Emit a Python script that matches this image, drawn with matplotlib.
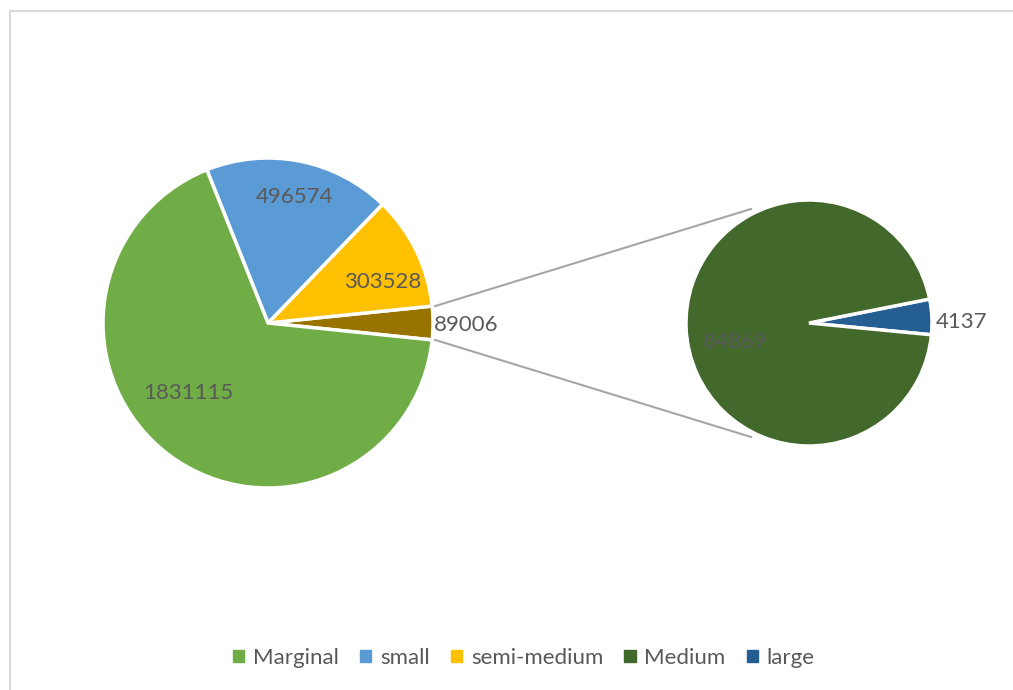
import matplotlib.pyplot as plt
from matplotlib.patches import Rectangle
import numpy as np

# main pie (counter-clockwise from the right): other, semi-medium, small, Marginal
main_names = ['other', 'semi-medium', 'small', 'Marginal']
main_values = [89006, 303528, 496574, 1831115]
main_colors = ['#997300', '#FFC000', '#5B9BD5', '#70AD47']

# secondary pie: split of "other"
sub_names = ['large', 'Medium']
sub_values = [4137, 84869]
sub_colors = ['#255E91', '#43682B']

legend_names = ['Marginal', 'small', 'semi-medium', 'Medium', 'large']
legend_colors = ['#70AD47', '#5B9BD5', '#FFC000', '#43682B', '#255E91']

W, H = 1013, 690
fig = plt.figure(figsize=(W / 100, H / 100), dpi=100)
ax = fig.add_axes([0, 0, 1, 1])

txt = '#595959'
font = 'Lato'
fs = 16

c1, r1 = (268, 367), 165
c2, r2 = (809, 367), 123

other_ang = main_values[0] / sum(main_values) * 360
wp = dict(edgecolor='white', linewidth=2.5)
ax.pie(main_values, colors=main_colors, center=c1, radius=r1,
       startangle=-other_ang / 2, counterclock=True,
       wedgeprops=wp, frame=True)
ax.pie(sub_values, colors=sub_colors, center=c2, radius=r2,
       startangle=-5.5, counterclock=True,
       wedgeprops=wp, frame=True)
ax.set_xlim(0, W)
ax.set_ylim(0, H)
ax.set_aspect('equal')
ax.axis('off')

# frame (only left and top edges visible)
ax.plot([9.5, 9.5], [0, H - 11], color='#D9D9D9', lw=1.5)
ax.plot([9.5, W], [H - 11, H - 11], color='#D9D9D9', lw=1.5)

# connector lines
a = np.radians(other_ang / 2)
b = np.radians(117)
for s in (1, -1):
    x0 = c1[0] + r1 * np.cos(a) + 3
    y0 = c1[1] + s * r1 * np.sin(a)
    x1 = c2[0] + r2 * 1.04 * np.cos(b)
    y1 = c2[1] + s * r2 * 1.04 * np.sin(b)
    ax.plot([x0, x1], [y0, y1], color='#A6A6A6', lw=1.5)

# data labels (offsets from each pie centre)
main_lab = [(198, -2), (115, 41), (27, 126), (-80, -70)]
for v, (dx, dy) in zip(main_values, main_lab):
    ax.text(c1[0] + dx, c1[1] + dy, str(v), color=txt, fontsize=fs,
            family=font, ha='center', va='center')
sub_lab = [(153, 1), (-74, -19)]
for v, (dx, dy) in zip(sub_values, sub_lab):
    ax.text(c2[0] + dx, c2[1] + dy, str(v), color=txt, fontsize=fs,
            family=font, ha='center', va='center')

handles = [Rectangle((0, 0), 1, 1, color=c) for c in legend_colors]
ax.legend(handles, legend_names, loc='center', bbox_to_anchor=(524 / W, 1 - 658 / H),
          ncol=5, frameon=False, handlelength=0.5, handleheight=0.5,
          handletextpad=0.4, columnspacing=0.95,
          prop=dict(family=font, size=fs), labelcolor=txt)

fig.savefig('out.png', dpi=100)
